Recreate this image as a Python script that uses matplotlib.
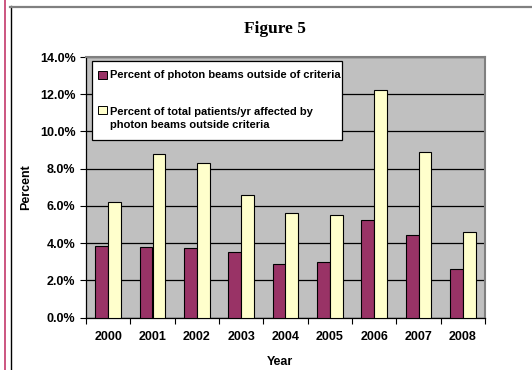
import matplotlib
matplotlib.use("Agg")
import numpy as np
import matplotlib.pyplot as plt
from matplotlib.patches import Rectangle
from matplotlib.lines import Line2D
from matplotlib.transforms import Affine2D

years = ["2000", "2001", "2002", "2003", "2004", "2005", "2006", "2007", "2008"]
beams_out = [3.85, 3.8, 3.75, 3.5, 2.85, 3.0, 5.25, 4.45, 2.6]
patients_hit = [6.2, 8.8, 8.3, 6.6, 5.6, 5.5, 12.2, 8.9, 4.6]
beams_label = "Percent of photon beams outside of criteria"
patients_label = "Percent of total patients/yr affected by\nphoton beams outside criteria"

MAROON = "#993366"
CREAM = "#FFFFCC"
SANS = "Liberation Sans"

W, H = 532, 370
fig = plt.figure(figsize=(W / 100, H / 100), dpi=100)
# pixel coordinates (origin top-left) for the decorations around the chart
pix = Affine2D().scale(1 / W, -1 / H).translate(0, 1) + fig.transFigure

left, right, top, bottom = 86, 485, 57, 317.5
ax = fig.add_axes([left / W, 1 - bottom / H, (right - left) / W, (bottom - top) / H])

x = np.arange(len(years))
bw = 0.29
ax.bar(x - bw / 2, beams_out, bw, color=MAROON, edgecolor="black", linewidth=0.8, zorder=3)
ax.bar(x + bw / 2, patients_hit, bw, color=CREAM, edgecolor="black", linewidth=0.8, zorder=3)

ax.set_xlim(-0.5, len(years) - 0.5)
ax.set_ylim(0, 14)
ax.set_facecolor("#C0C0C0")
ax.set_yticks(np.arange(0, 15, 2))
ax.yaxis.set_major_formatter(lambda v, p: f"{v:.1f}%")
ax.grid(axis="y", color="black", linewidth=0.9, zorder=1)
ax.set_axisbelow(True)

ax.set_xticks(x)
ax.set_xticklabels(years)
ax.set_xticks(np.arange(-0.5, len(years)), minor=True)
ax.tick_params(axis="x", which="major", length=0, pad=10)
ax.tick_params(axis="x", which="minor", length=4, width=0.8, color="black")
ax.tick_params(axis="y", length=4.5, width=0.8, pad=3)
for lab in ax.get_xticklabels() + ax.get_yticklabels():
    lab.set_fontfamily(SANS)
    lab.set_fontweight("bold")
    lab.set_fontsize(9)

for s in ("top", "right"):
    ax.spines[s].set_color("#808080")
    ax.spines[s].set_linewidth(1.5)
for s in ("left", "bottom"):
    ax.spines[s].set_color("black")
    ax.spines[s].set_linewidth(0.9)

ax.set_xlabel("Year", fontfamily=SANS, fontweight="bold", fontsize=9)
ax.xaxis.set_label_coords((280 - left) / (right - left), -0.148)
ax.set_ylabel("Percent", fontfamily=SANS, fontweight="bold", fontsize=9)
ax.yaxis.set_label_coords(-0.134, 0.5)

# title and frame lines
fig.text(275, 29, "Figure 5", transform=pix, ha="center", va="center",
         fontfamily="Liberation Serif", fontweight="bold", fontsize=12.5)
fig.add_artist(Line2D([4.5, 4.5], [0, H], transform=pix, color="#CC5580", lw=1.4))
fig.add_artist(Line2D([10.5, 10.5], [6, H], transform=pix, color="black", lw=1.0))
fig.add_artist(Line2D([10, W], [6.5, 6.5], transform=pix, color="#808080", lw=1.6))

# legend box
fig.add_artist(Rectangle((91.5, 61), 250.5, 79, transform=pix, facecolor="white",
                         edgecolor="black", lw=0.9, zorder=4))
fig.add_artist(Rectangle((98.3, 70.8), 8.2, 8.2, transform=pix, facecolor=MAROON,
                         edgecolor="black", lw=0.7, zorder=5))
fig.add_artist(Rectangle((98.3, 105.8), 8.2, 8.2, transform=pix, facecolor=CREAM,
                         edgecolor="black", lw=0.7, zorder=5))
fig.text(109.5, 75, beams_label, transform=pix, ha="left", va="center",
         fontfamily=SANS, fontweight="bold", fontsize=8, zorder=6)
fig.text(109.5, 118.5, patients_label, transform=pix, ha="left", va="center",
         fontfamily=SANS, fontweight="bold", fontsize=8, linespacing=1.35, zorder=6)

fig.savefig("out.png", dpi=100)
